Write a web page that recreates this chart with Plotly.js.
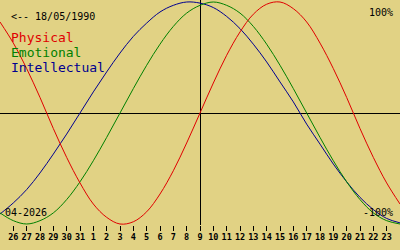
<!DOCTYPE html>
<html>
<head>
<meta charset="utf-8">
<script src="https://cdn.plot.ly/plotly-3.0.1.min.js"></script>
<style>
html,body{margin:0;padding:0;background:#e1d284;}
#chart{width:400px;height:250px;}
</style>
</head>
<body>
<div id="chart"></div>
<script>
// Day offsets from the selected date (09-04-2026)
const offsets = [-15,-14,-13,-12,-11,-10,-9,-8,-7,-6,-5,-4,-3,-2,-1,0,1,2,3,4,5,6,7,8,9,10,11,12,13,14,15];
// Values (fraction of 100%)
const physical = [0.82,0.63,0.40,0.14,-0.14,-0.40,-0.63,-0.82,-0.94,-1.00,-0.98,-0.89,-0.73,-0.52,-0.27,0,0.27,0.52,0.73,0.89,0.98,1.00,0.94,0.82,0.63,0.40,0.14,-0.14,-0.40,-0.63,-0.82];
const emotional = [-0.90,-0.97,-1.00,-0.97,-0.90,-0.78,-0.62,-0.43,-0.22,0,0.22,0.43,0.62,0.78,0.90,0.97,1.00,0.97,0.90,0.78,0.62,0.43,0.22,0,-0.22,-0.43,-0.62,-0.78,-0.90,-0.97,-1.00];
const intellectual = [-0.91,-0.81,-0.69,-0.54,-0.37,-0.19,0,0.19,0.37,0.54,0.69,0.81,0.91,0.97,1.00,0.99,0.95,0.87,0.76,0.62,0.46,0.28,0.10,-0.10,-0.28,-0.46,-0.62,-0.76,-0.87,-0.95,-0.99];
// Tick labels (days of month)
const tickOffsets = [-14,-13,-12,-11,-10,-9,-8,-7,-6,-5,-4,-3,-2,-1,0,1,2,3,4,5,6,7,8,9,10,11,12,13,14];
const tickLabels = ['26','27','28','29','30','31','1','2','3','4','5','6','7','8','9','10','11','12','13','14','15','16','17','18','19','20','21','22','23'];

const bg = '#e1d284';
const cRed = '#e00000', cGreen = '#008000', cBlue = '#000090';
const mono = 'DejaVu Sans Mono, Liberation Mono, monospace';

const mk = (y, color) => ({
  x: offsets, y: y, type: 'scatter', mode: 'lines',
  line: {color: color, width: 1, shape: 'spline', smoothing: 1},
  hoverinfo: 'skip'
});

const data = [mk(intellectual, cBlue), mk(emotional, cGreen), mk(physical, cRed)];

const PH = 225; // plot height in px
const py = p => 1 - p / PH;

const ann = (text, x, y, size, color, xanchor) => ({
  text: text, xref: 'paper', yref: 'paper', x: x / 400, y: py(y),
  xanchor: xanchor, yanchor: 'middle', showarrow: false,
  font: {family: mono, size: size, color: color}, borderpad: 0
});

const layout = {
  width: 400, height: 250,
  margin: {l: 0, r: 0, t: 0, b: 25, pad: 0},
  paper_bgcolor: bg, plot_bgcolor: bg,
  showlegend: false, hovermode: false,
  xaxis: {
    range: [-15, 15], showgrid: false, showline: false,
    zeroline: true, zerolinecolor: '#000', zerolinewidth: 1,
    tickmode: 'array', tickvals: tickOffsets, ticktext: tickLabels,
    tickangle: 0, ticklabelstandoff: -1,
    ticks: 'outside', ticklen: 5, tickwidth: 1, tickcolor: '#000',
    tickfont: {family: mono, size: 8.5, color: '#000', weight: 'bold'},
    fixedrange: true
  },
  yaxis: {
    range: [-1.009, 1.018], showgrid: false, showline: false,
    zeroline: true, zerolinecolor: '#000', zerolinewidth: 1,
    showticklabels: false, ticks: '', fixedrange: true
  },
  annotations: [
    ann('<-- 18/05/1990', 10, 16, 10, '#000', 'left'),
    ann('Physical', 10, 38, 13, cRed, 'left'),
    ann('Emotional', 10, 53, 13, cGreen, 'left'),
    ann('Intellectual', 10, 68, 13, cBlue, 'left'),
    ann('100%', 394, 12.5, 10, '#000', 'right'),
    ann('-100%', 394, 212, 10, '#000', 'right'),
    ann('04-2026', 4, 212, 10, '#000', 'left')
  ]
};

Plotly.newPlot('chart', data, layout, {displayModeBar: false, staticPlot: true});
</script>
</body>
</html>
